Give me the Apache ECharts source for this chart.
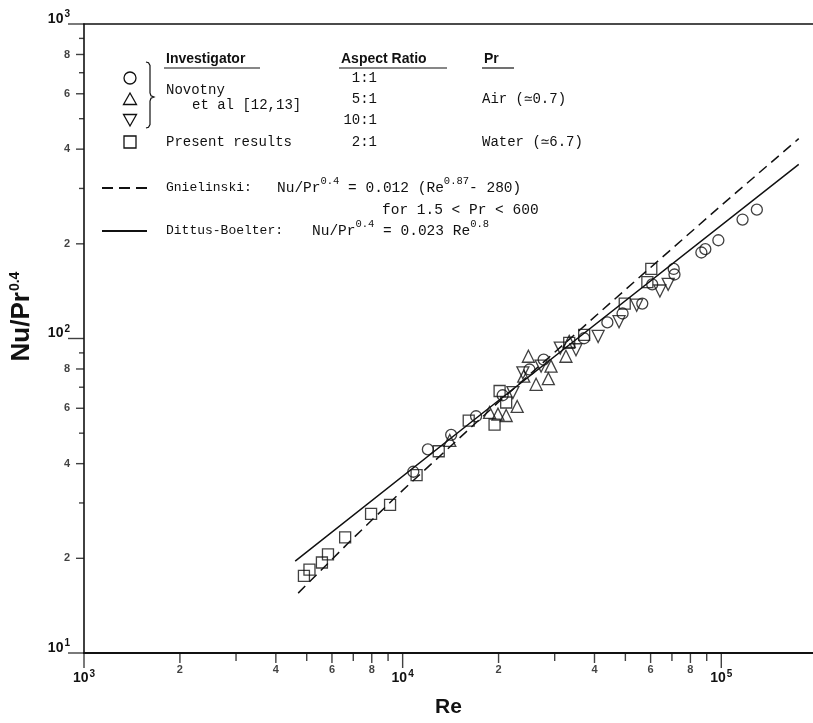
<!DOCTYPE html>
<html>
<head>
<meta charset="utf-8">
<script src="https://cdn.jsdelivr.net/npm/echarts@6/dist/echarts.min.js"></script>
<style>
  html, body { margin: 0; background: #fff; }
  #chart { width: 813px; height: 723px; }
</style>
</head>
<body>
<div id="chart"></div>
<script>
// Novotny et al, aspect ratio 1:1 (circles)
const circleRe = [10800, 12000, 14200, 17000, 20600, 25000, 27700, 37100, 43900, 49000, 56500, 60700, 70900, 71300, 86600, 89100, 97900, 116600, 129300]
const circleNu = [37.7, 44.4, 49.4, 56.6, 66.0, 79.7, 85.7, 100.2, 112.5, 120.1, 129.1, 148.6, 166.4, 159.8, 187.7, 192.3, 205.3, 238.9, 256.9]
// 5:1 (triangles)
const triUpRe = [14060, 18740, 19910, 21130, 22880, 24810, 28660, 26230, 29220, 32540, 23990, 33320]
const triUpNu = [47.4, 58.2, 57.5, 56.9, 60.8, 87.8, 74.5, 71.5, 81.7, 87.8, 75.9, 97.9]
// 10:1 (inverted triangles)
const triDownRe = [23840, 22180, 31240, 34990, 41060, 47760, 54250, 64160, 68130, 27200]
const triDownNu = [77.8, 67.3, 93.2, 92.1, 101.5, 113.1, 127.6, 141.6, 148.6, 81.7]
// present results, 2:1 (squares)
const squareRe = [4900, 5100, 5580, 5830, 6600, 7960, 9130, 11060, 12980, 16120, 19430, 20150, 21130, 33320, 37120, 49770, 58610, 60300]
const squareNu = [17.6, 18.4, 19.4, 20.6, 23.3, 27.7, 29.6, 36.8, 43.8, 54.8, 53.2, 68.1, 62.6, 96.8, 102.7, 129.1, 151.1, 166.4]
// correlations
const gnielRe = [4700, 7000, 10000, 20000, 50000, 100000, 175000]
const gnielNu = [15.5, 23.2, 32.9, 62.8, 143, 265, 432]
const dittusRe = [4600, 20000, 175000]
const dittusNu = [19.6, 63.5, 358]
// ticks
const xDecades = [1000, 10000, 100000]
const yDecades = [10, 100, 1000]
const xTickLabeled = [2000, 4000, 6000, 8000, 20000, 40000, 60000, 80000]
const xTickPlain = [3000, 5000, 7000, 9000, 30000, 50000, 70000, 90000]
const yTickLabeled = [20, 40, 60, 80, 200, 400, 600, 800]
const yTickPlain = [30, 50, 70, 90, 300, 500, 700, 900]

const INK = '#111'
const SANS = '"Liberation Sans", Arial, sans-serif'
const MONO = '"Liberation Mono", "DejaVu Sans Mono", monospace'

function pairs(xs, ys) { return xs.map((x, i) => [x, ys[i]]) }
function mant(v) { return Math.round(v / Math.pow(10, Math.floor(Math.log10(v) + 1e-9))) }
function decadeLabel(v) {
  const e = Math.log10(v)
  if (Math.abs(e - Math.round(e)) > 1e-6) return ''
  return '{b|10}{s|' + Math.round(e) + '}'
}
const decadeRich = {
  b: { fontSize: 14, fontWeight: 'bold', fontFamily: SANS, color: INK },
  s: { fontSize: 10, fontWeight: 'bold', fontFamily: SANS, color: INK, padding: [0, 0, 9, 1] }
}

function markSeries(data, symbol, rotate, size) {
  return {
    type: 'scatter', data: data, symbol: symbol, symbolRotate: rotate, symbolSize: size,
    itemStyle: { color: 'rgba(0,0,0,0)', borderColor: INK, borderWidth: 1.3 },
    clip: false, z: 4, silent: true
  }
}
function tickSeries(data, size, offset, labelPos, showLabel) {
  return {
    type: 'scatter', data: data, symbol: 'rect', symbolSize: size, symbolOffset: offset,
    itemStyle: { color: INK }, clip: false, silent: true, z: 6,
    label: {
      show: showLabel, position: labelPos, distance: labelPos === 'left' ? 6 : 1,
      fontSize: 11, fontWeight: 'bold', fontFamily: SANS, color: INK,
      formatter: p => String(mant(labelPos === 'left' ? p.value[1] : p.value[0]))
    }
  }
}

// legend, drawn as plain graphic elements
const measure = document.createElement('canvas').getContext('2d')
function txt(x, y, s, font, align) {
  return { type: 'text', x: x, y: y, silent: true,
    style: { text: s, font: font, fill: INK, textAlign: align || 'left', align: align || 'left',
      textVerticalAlign: 'middle', verticalAlign: 'middle' } }
}
function chain(x, y, parts) {
  const out = []
  parts.forEach(p => {
    out.push(txt(x, y + (p[2] || 0), p[0], p[1]))
    measure.font = p[1]
    x += measure.measureText(p[0]).width
  })
  return out
}
function seg(x1, y1, x2, y2, w, dash) {
  return { type: 'line', silent: true, shape: { x1: x1, y1: y1, x2: x2, y2: y2 },
    style: { stroke: INK, lineWidth: w, lineDash: dash || null } }
}
const hollow = { fill: 'none', stroke: INK, lineWidth: 1.3 }
const F_HEAD = 'bold 14px ' + SANS
const F_ROW = '14px ' + MONO
const F_NAME = '13px ' + MONO
const F_EQ = '14.5px ' + MONO
const F_SUP = '10.5px ' + MONO

const graphics = [
  txt(166, 59, 'Investigator', F_HEAD), seg(164, 68, 260, 68, 1.2),
  txt(341, 59, 'Aspect Ratio', F_HEAD), seg(339, 68, 447, 68, 1.2),
  txt(484, 59, 'Pr', F_HEAD), seg(482, 68, 514, 68, 1.2),
  { type: 'circle', silent: true, shape: { cx: 130, cy: 78, r: 6 }, style: hollow },
  { type: 'polygon', silent: true, shape: { points: [[130, 93], [123.5, 104.5], [136.5, 104.5]] }, style: hollow },
  { type: 'polygon', silent: true, shape: { points: [[123.5, 114.5], [136.5, 114.5], [130, 126]] }, style: hollow },
  { type: 'rect', silent: true, shape: { x: 124, y: 136, width: 12, height: 12 }, style: hollow },
  { type: 'polyline', silent: true,
    shape: { points: [[146, 62], [148.5, 62.8], [150, 65.5], [150, 93], [151, 95.8], [154, 97], [151, 98.2], [150, 101], [150, 124.5], [148.5, 127.2], [146, 128]] },
    style: { fill: 'none', stroke: INK, lineWidth: 1.2 } },
  txt(166, 90, 'Novotny', F_ROW),
  txt(192, 105, 'et al [12,13]', F_ROW),
  txt(166, 142, 'Present results', F_ROW),
  txt(377, 78, '1:1', F_ROW, 'right'),
  txt(377, 99, '5:1', F_ROW, 'right'),
  txt(377, 120, '10:1', F_ROW, 'right'),
  txt(377, 142, '2:1', F_ROW, 'right'),
  txt(482, 99, 'Air (\u22430.7)', F_ROW),
  txt(482, 142, 'Water (\u22436.7)', F_ROW),
  seg(102, 188, 147, 188, 2, [11, 6]),
  txt(166, 188, 'Gnielinski:', F_NAME),
  ...chain(277, 188, [['Nu/Pr', F_EQ], ['0.4', F_SUP, -7], [' = 0.012 (Re', F_EQ], ['0.87', F_SUP, -7], ['- 280)', F_EQ]]),
  txt(382, 210, 'for 1.5 < Pr < 600', F_EQ),
  seg(102, 231, 147, 231, 2),
  txt(166, 231, 'Dittus-Boelter:', F_NAME),
  ...chain(312, 231, [['Nu/Pr', F_EQ], ['0.4', F_SUP, -7], [' = 0.023 Re', F_EQ], ['0.8', F_SUP, -7]])
]

const chart = echarts.init(document.getElementById('chart'), null, { renderer: 'canvas' })
chart.setOption({
  animation: false,
  backgroundColor: '#fff',
  grid: { left: 81, top: 24, width: 732, height: 636 },
  xAxis: [{
    type: 'log', logBase: 10, min: 1000, max: 194000,
    name: 'Re', nameLocation: 'middle', nameGap: 44,
    nameTextStyle: { fontSize: 21, fontWeight: 'bold', fontFamily: SANS, color: INK },
    axisLine: { lineStyle: { color: INK, width: 2 } },
    axisTick: { show: false },
    axisLabel: { margin: 16, formatter: decadeLabel, rich: decadeRich, showMaxLabel: false, color: INK },
    splitLine: { show: false }, minorTick: { show: false }
  }, {
    // top frame line only
    type: 'log', logBase: 10, min: 1000, max: 194000, position: 'top',
    axisLine: { lineStyle: { color: INK, width: 1.5 } },
    axisTick: { show: false }, axisLabel: { show: false }, splitLine: { show: false }
  }],
  yAxis: {
    type: 'log', logBase: 10, min: 10, max: 1000,
    name: '{a|Nu/Pr}{s|0.4}', nameLocation: 'middle', nameGap: 48,
    nameTextStyle: {
      padding: [0, 0, 0, 44],
      rich: {
        a: { fontSize: 26, fontWeight: 'bold', fontFamily: SANS, color: INK },
        s: { fontSize: 14, fontWeight: 'bold', fontFamily: SANS, color: INK, padding: [0, 0, 14, 1] }
      }
    },
    axisLine: { lineStyle: { color: INK, width: 1.6 } },
    axisTick: { show: false },
    axisLabel: { margin: 14, formatter: decadeLabel, rich: decadeRich, verticalAlign: 'middle', padding: [0, 0, 10, 0], color: INK },
    splitLine: { show: false }, minorTick: { show: false }
  },
  graphic: graphics,
  series: [
    { type: 'line', data: pairs(gnielRe, gnielNu), showSymbol: false, silent: true, z: 3,
      lineStyle: { color: INK, width: 1.5, type: [10, 6] } },
    { type: 'line', data: pairs(dittusRe, dittusNu), showSymbol: false, silent: true, z: 3,
      lineStyle: { color: INK, width: 1.5 } },
    markSeries(pairs(circleRe, circleNu), 'circle', 0, 11),
    markSeries(pairs(triUpRe, triUpNu), 'triangle', 0, 12),
    markSeries(pairs(triDownRe, triDownNu), 'triangle', 180, 12),
    markSeries(pairs(squareRe, squareNu), 'rect', 0, 11),
    tickSeries(xDecades.map(v => [v, 10]), [1.4, 15], [0, 7.5], 'bottom', false),
    tickSeries(xTickLabeled.map(v => [v, 10]), [1.4, 10], [0, 5], 'bottom', true),
    tickSeries(xTickPlain.map(v => [v, 10]), [1.4, 8], [0, 4], 'bottom', false),
    tickSeries(yDecades.map(v => [1000, v]), [16, 1.4], [-8, 0], 'left', false),
    tickSeries(yTickLabeled.map(v => [1000, v]), [8, 1.4], [-4, 0], 'left', true),
    tickSeries(yTickPlain.map(v => [1000, v]), [5, 1.4], [-2.5, 0], 'left', false)
  ]
})
</script>
</body>
</html>
